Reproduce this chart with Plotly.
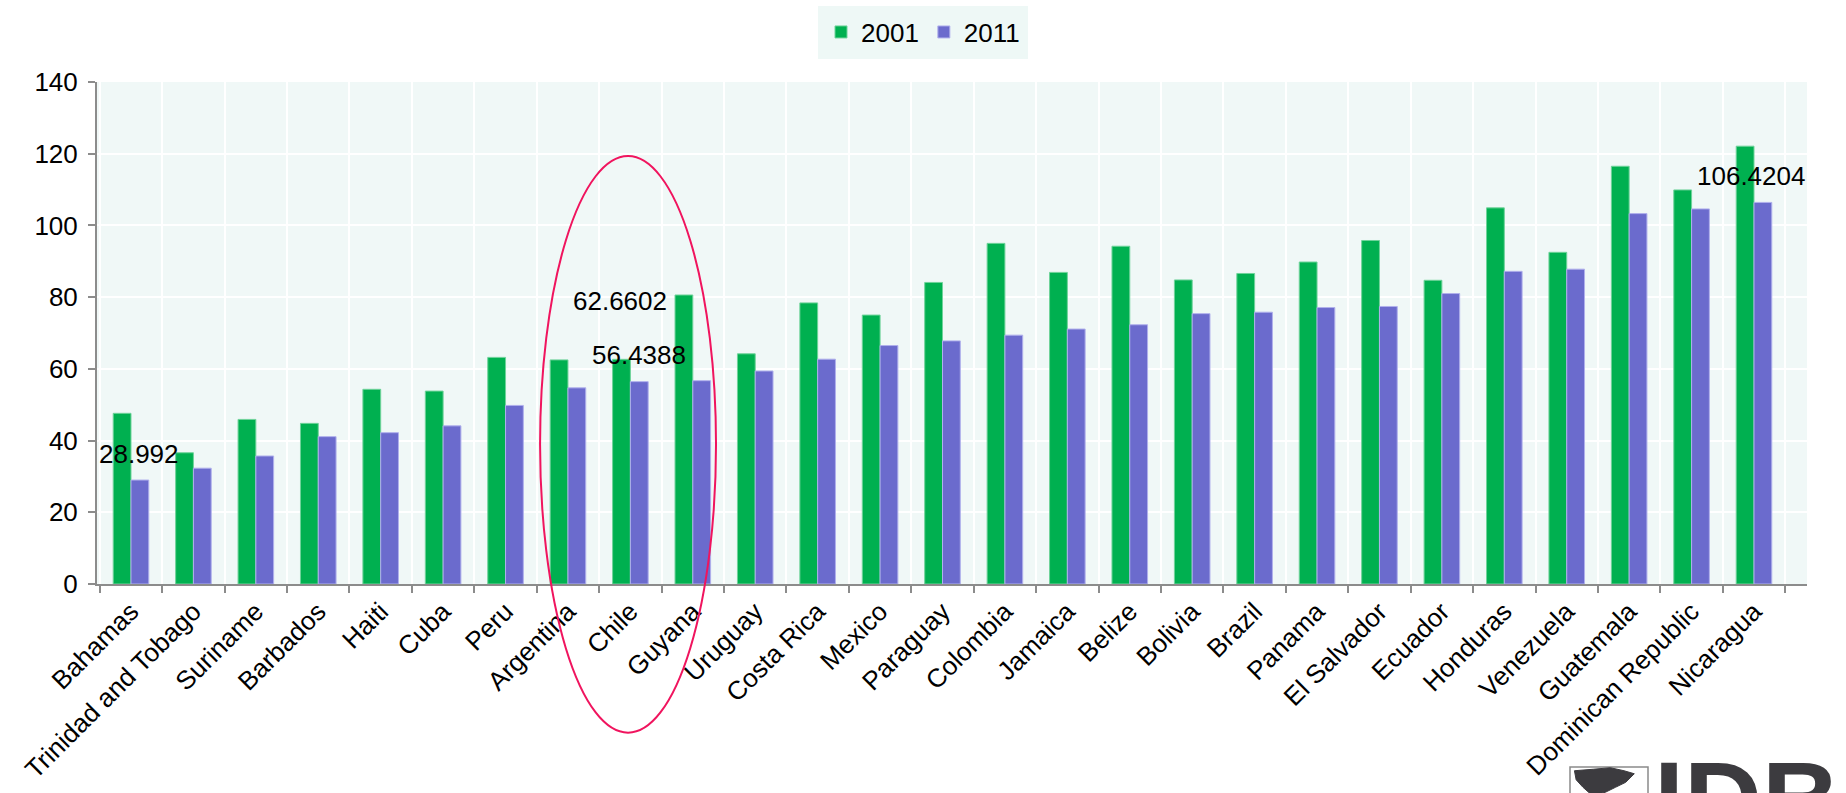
import plotly.graph_objects as go

countries = ["Bahamas", "Trinidad and Tobago", "Suriname", "Barbados", "Haiti", "Cuba", "Peru",
             "Argentina", "Chile", "Guyana", "Uruguay", "Costa Rica", "Mexico", "Paraguay",
             "Colombia", "Jamaica", "Belize", "Bolivia", "Brazil", "Panama", "El Salvador",
             "Ecuador", "Honduras", "Venezuela", "Guatemala", "Dominican Republic", "Nicaragua"]

values_2001 = [47.6, 36.6, 45.9, 44.8, 54.3, 53.8, 63.2, 62.5, 62.6602, 80.6, 64.2, 78.4, 75.0,
               84.1, 95.0, 86.9, 94.2, 84.8, 86.6, 89.8, 95.8, 84.7, 104.9, 92.5, 116.5, 109.9, 122.1]

values_2011 = [28.992, 32.3, 35.7, 41.1, 42.2, 44.1, 49.8, 54.7, 56.4388, 56.7, 59.4, 62.7, 66.5,
               67.8, 69.4, 71.1, 72.3, 75.4, 75.8, 77.1, 77.4, 81.0, 87.2, 87.8, 103.3, 104.6, 106.4204]

series_names = ["2001", "2011"]

# labelled points: (country, series index, text, xshift, yshift)
labels = [("Bahamas", 1, "28.992", 8, 26),
          ("Chile", 0, "62.6602", -10, 58),
          ("Chile", 1, "56.4388", 9, 27),
          ("Nicaragua", 1, "106.4204", -3, 26)]

GREEN = "#00b050"
PURPLE = "#6b6bcd"
FONT = "Liberation Sans, Arial, sans-serif"

fig = go.Figure()
fig.add_trace(go.Bar(x=countries, y=values_2001, name=series_names[0],
                     marker=dict(color=GREEN, line=dict(color="#6fd39a", width=1))))
fig.add_trace(go.Bar(x=countries, y=values_2011, name=series_names[1],
                     marker=dict(color=PURPLE, line=dict(color="#b0b0ec", width=1))))

series_vals = [values_2001, values_2011]
for c, s, t, xs, ys in labels:
    i = countries.index(c)
    fig.add_annotation(x=c, y=series_vals[s][i], text=t, showarrow=False,
                       xshift=xs, yshift=ys, font=dict(size=26, color="black", family=FONT))

# highlight ellipse around Argentina-Chile-Guyana
fig.add_shape(type="circle", xref="paper", yref="paper",
              x0=0.2591, x1=0.3620, y0=-0.2962, y1=0.8526,
              line=dict(color="#f0145e", width=2), fillcolor="rgba(0,0,0,0)", layer="above")

# IDB logo (approximate)
fig.add_shape(type="rect", xref="paper", yref="paper",
              x0=(1570 - 97) / 1710, x1=(1648 - 97) / 1710, y0=-0.45, y1=(584 - 767) / 502,
              line=dict(color="#8a8a8a", width=1.5), fillcolor="white")
fig.add_shape(type="path", xref="paper", yref="paper",
              path="M 0.8640,-0.372 L 0.8750,-0.369 L 0.8850,-0.366 L 0.8930,-0.372 L 0.8990,-0.378 "
                   "L 0.8940,-0.395 L 0.8880,-0.405 L 0.8820,-0.415 L 0.8740,-0.420 L 0.8690,-0.405 "
                   "L 0.8650,-0.390 Z",
              line=dict(color="#3c3b3f", width=1), fillcolor="#3c3b3f")
fig.add_annotation(xref="paper", yref="paper", x=(1652 - 97) / 1710, xanchor="left",
                   y=-0.305, yanchor="top",
                   text="<b>IDB</b>", showarrow=False,
                   font=dict(size=108, color="#3c3b3f", family=FONT))

fig.update_layout(
    width=1846, height=793,
    margin=dict(l=97, r=39, t=82, b=209, autoexpand=False),
    paper_bgcolor="white",
    plot_bgcolor="#f0f8f7",
    barmode="group",
    bargap=0.43,
    bargroupgap=0,
    font=dict(family=FONT, color="black", size=26),
    legend=dict(orientation="h", xref="container", yref="container",
                x=0.5, xanchor="center", y=0.993, yanchor="top",
                bgcolor="#eef8f6", bordercolor="#eef8f6", borderwidth=3,
                font=dict(size=26, color="black"),
                itemwidth=30, traceorder="normal"),
    xaxis=dict(tickangle=-45, tickson="boundaries", showgrid=True, gridcolor="white", gridwidth=1.5,
               showline=True, linecolor="#8c8c8c", linewidth=2, automargin=False,
               ticks="outside", ticklen=7, tickcolor="#8c8c8c", tickwidth=2,
               tickfont=dict(size=26, color="black", family=FONT)),
    yaxis=dict(range=[0, 140], dtick=20, showgrid=True, gridcolor="white", gridwidth=1.5,
               zeroline=False, showline=True, linecolor="#8c8c8c", linewidth=2, automargin=False,
               ticks="outside", ticklen=7, tickcolor="#8c8c8c", tickwidth=2, ticklabelstandoff=5,
               tickfont=dict(size=26, color="black", family=FONT)),
)

fig.write_html("out.html", config={"displayModeBar": False},
               post_script="document.body.style.margin='0';document.body.style.overflow='hidden';")
